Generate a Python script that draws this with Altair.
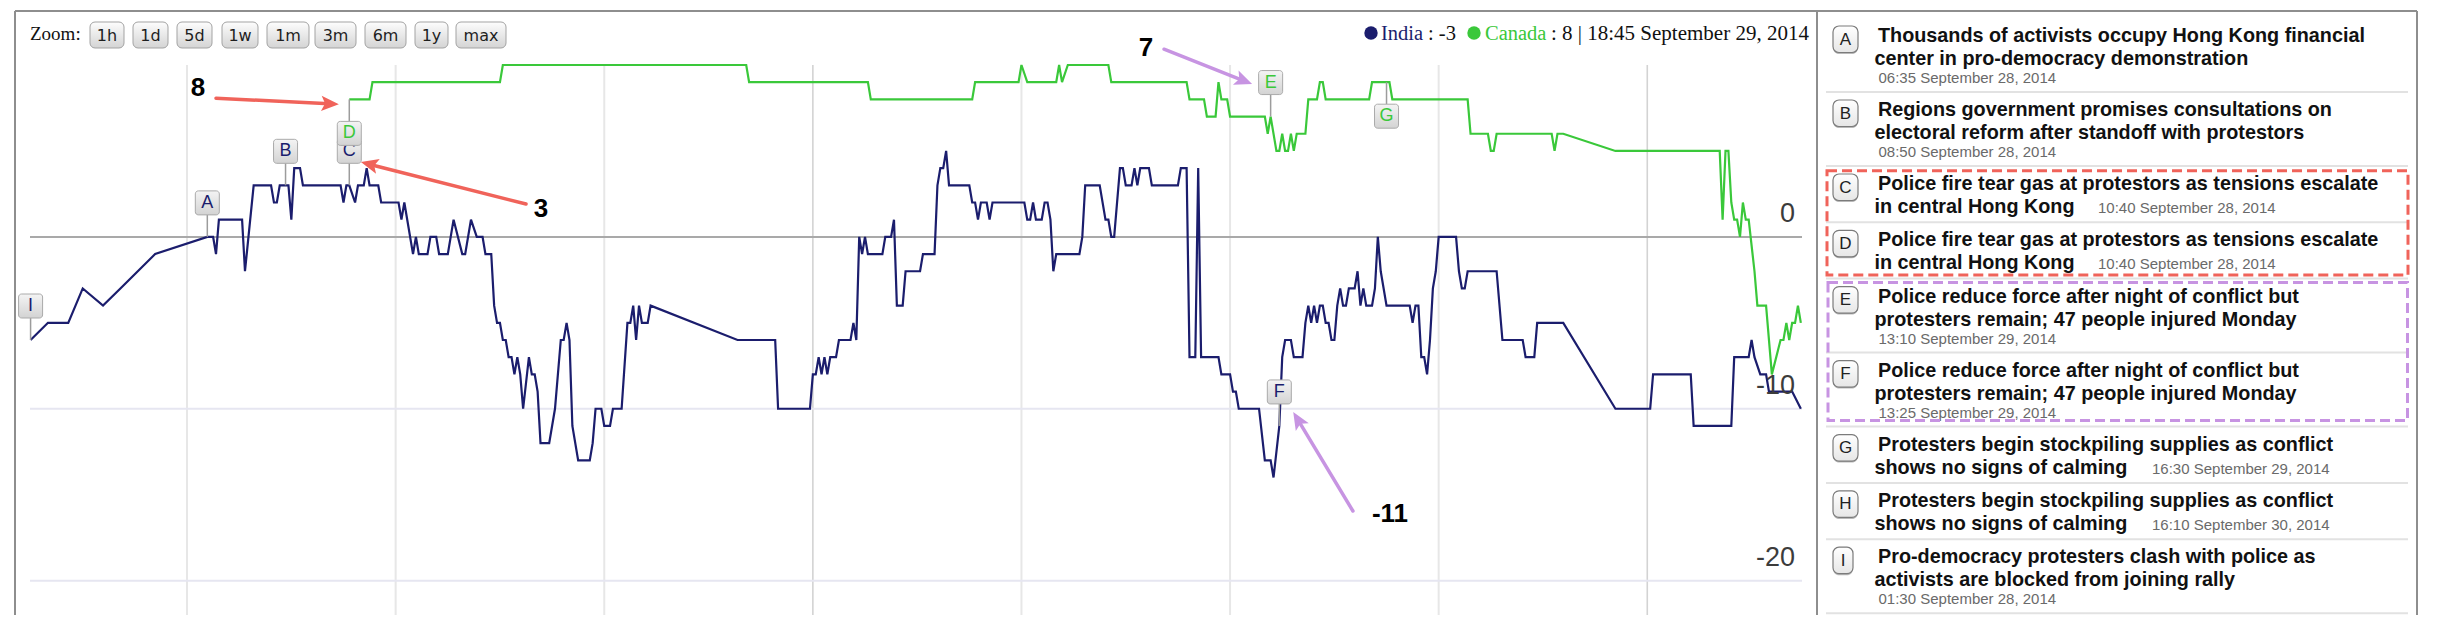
import math
import altair as alt
import numpy as np
import pandas as pd

# ---------------------------------------------------------------- data
START = pd.Timestamp("2014-09-28 00:00")   # minutes below are counted from here

india_minutes = [
    90, 120, 155, 180, 215, 245, 275, 305, 395, 405,
    410, 415, 455, 460, 475, 505, 510, 515, 520, 535,
    540, 545, 555, 560, 625, 630, 635, 640, 650, 655,
    665, 670, 675, 690, 695, 725, 730, 735, 750, 755,
    760, 775, 780, 790, 795, 810, 820, 835, 840, 850,
    860, 870, 875, 885, 890, 895, 900, 905, 910, 915,
    920, 925, 930, 935, 940, 950, 955, 960, 965, 970,
    985, 995, 1005, 1010, 1015, 1020, 1025, 1035, 1055, 1060,
    1065, 1075, 1080, 1090, 1095, 1110, 1120, 1125, 1130, 1135,
    1140, 1145, 1155, 1160, 1310, 1375, 1380, 1435, 1440, 1445,
    1450, 1455, 1460, 1465, 1470, 1480, 1485, 1505, 1510, 1515,
    1520, 1525, 1530, 1535, 1560, 1565, 1575, 1580, 1585, 1595,
    1600, 1625, 1630, 1650, 1655, 1660, 1665, 1670, 1675, 1710,
    1715, 1720, 1725, 1730, 1740, 1745, 1750, 1805, 1810, 1815,
    1820, 1825, 1835, 1840, 1845, 1850, 1855, 1860, 1900, 1905,
    1910, 1935, 1945, 1950, 1955, 1960, 1970, 1975, 1980, 1990,
    1995, 2000, 2005, 2020, 2025, 2070, 2075, 2085, 2090, 2100,
    2105, 2110, 2140, 2145, 2160, 2165, 2170, 2175, 2210, 2220,
    2230, 2235, 2245, 2250, 2255, 2265, 2270, 2285, 2290, 2295,
    2300, 2305, 2310, 2315, 2320, 2325, 2330, 2335, 2340, 2345,
    2350, 2355, 2360, 2365, 2375, 2380, 2385, 2390, 2395, 2405,
    2410, 2415, 2420, 2430, 2470, 2475, 2480, 2485, 2490, 2495,
    2500, 2505, 2510, 2515, 2520, 2550, 2555, 2560, 2565, 2570,
    2620, 2630, 2665, 2670, 2685, 2690, 2735, 2825, 2885, 2890,
    2955, 2960, 3025, 3030, 3055, 3060, 3065, 3075, 3085, 3090,
    3130, 3145,
]
india_values = [
    -6, -5, -5, -3, -4, -3, -2, -1, 0, 0,
    -1, 1, 1, -2, 3, 3, 2, 2, 3, 3,
    1, 4, 4, 3, 3, 2, 3, 3, 2, 3,
    3, 4, 3, 3, 2, 2, 1, 2, -1, 0,
    -1, -1, 0, 0, -1, -1, 1, -1, -1, 1,
    0, 0, -1, -1, -4, -5, -5, -6, -6, -7,
    -7, -8, -7, -8, -10, -7, -8, -8, -9, -12,
    -12, -10, -6, -6, -5, -6, -11, -13, -13, -12,
    -10, -10, -11, -11, -10, -10, -5, -5, -4, -6,
    -4, -5, -5, -4, -6, -6, -10, -10, -8, -8,
    -7, -8, -7, -8, -7, -7, -6, -6, -5, -6,
    0, -1, 0, -1, -1, 0, 0, 1, -4, -4,
    -2, -2, -1, -1, 3, 4, 4, 5, 3, 3,
    2, 2, 1, 2, 2, 1, 2, 2, 1, 1,
    2, 1, 1, 2, 2, 1, -2, -1, -1, 0,
    3, 3, 1, 1, 0, 0, 4, 4, 3, 3,
    4, 3, 4, 4, 3, 3, 4, 4, -7, -7,
    4, -7, -7, -8, -8, -9, -9, -10, -10, -13,
    -13, -14, -11, -7, -6, -6, -7, -7, -5, -4,
    -5, -4, -5, -4, -4, -5, -5, -6, -6, -4,
    -3, -4, -4, -3, -3, -2, -4, -3, -4, -4,
    -3, 0, -2, -4, -4, -5, -4, -4, -7, -7,
    -8, -6, -3, -2, 0, 0, -2, -3, -3, -2,
    -2, -6, -6, -7, -7, -5, -5, -10, -10, -8,
    -8, -11, -11, -7, -7, -6, -7, -8, -8, -9,
    -9, -10,
]
canada_minutes = [
    640, 675, 680, 900, 905, 1325, 1330, 1535, 1540, 1715,
    1720, 1795, 1800, 1810, 1860, 1865, 1870, 1880, 1950, 1955,
    2085, 2090, 2115, 2120, 2135, 2140, 2145, 2155, 2160, 2220,
    2225, 2230, 2240, 2245, 2250, 2255, 2260, 2265, 2270, 2275,
    2290, 2295, 2310, 2315, 2320, 2325, 2400, 2405, 2435, 2440,
    2570, 2575, 2605, 2610, 2615, 2620, 2715, 2720, 2725, 2735,
    2825, 3005, 3010, 3015, 3020, 3025, 3030, 3035, 3040, 3045,
    3050, 3055, 3065, 3070, 3085, 3095, 3110, 3115, 3120, 3125,
    3130, 3135, 3140, 3145,
]
canada_values = [
    8, 8, 9, 9, 10, 10, 9, 9, 8, 8,
    9, 9, 10, 9, 9, 10, 9, 10, 10, 9,
    9, 8, 8, 7, 7, 9, 8, 8, 7, 7,
    6, 7, 5, 5, 6, 5, 5, 6, 5, 6,
    6, 8, 8, 9, 9, 8, 8, 9, 9, 8,
    8, 6, 6, 5, 5, 6, 6, 5, 6, 6,
    5, 5, 1, 5, 5, 2, 1, 1, 0, 2,
    1, 1, -2, -4, -4, -8, -6, -6, -5, -6,
    -5, -5, -4, -5,
]
series_names = ["India", "Canada"]

flag_letters = ["I", "A", "B", "C", "D", "E", "F", "G"]
flag_series = ["India", "India", "India", "India", "Canada", "Canada", "India", "Canada"]
flag_times = ["2014-09-28 01:30", "2014-09-28 06:35", "2014-09-28 08:50", "2014-09-28 10:40",
              "2014-09-28 10:40", "2014-09-29 13:10", "2014-09-29 13:25", "2014-09-29 16:30"]
flag_values = [-6, 0, 3, 3, 8, 7, -11, 9]

news_letters = ["A", "B", "C", "D", "E", "F", "G", "H", "I"]
news_line1 = [
    "Thousands of activists occupy Hong Kong financial",
    "Regions government promises consultations on",
    "Police fire tear gas at protestors as tensions escalate",
    "Police fire tear gas at protestors as tensions escalate",
    "Police reduce force after night of conflict but",
    "Police reduce force after night of conflict but",
    "Protesters begin stockpiling supplies as conflict",
    "Protesters begin stockpiling supplies as conflict",
    "Pro-democracy protesters clash with police as",
]
news_line2 = [
    "center in pro-democracy demonstration",
    "electoral reform after standoff with protestors",
    "in central Hong Kong",
    "in central Hong Kong",
    "protesters remain; 47 people injured Monday",
    "protesters remain; 47 people injured Monday",
    "shows no signs of calming",
    "shows no signs of calming",
    "activists are blocked from joining rally",
]
news_times = [
    "06:35 September 28, 2014", "08:50 September 28, 2014", "10:40 September 28, 2014",
    "10:40 September 28, 2014", "13:10 September 29, 2014", "13:25 September 29, 2014",
    "16:30 September 29, 2014", "16:10 September 30, 2014", "01:30 September 28, 2014",
]

zoom_labels = ["1h", "1d", "5d", "1w", "1m", "3m", "6m", "1y", "max"]
hover_time_label = "18:45 September 29, 2014"
hover_minute = 2565

y_tick_values = [0, -10, -20]
grid_hour_times = ["2014-09-28 06:00", "2014-09-28 12:00", "2014-09-28 18:00",
                   "2014-09-29 06:00", "2014-09-29 12:00", "2014-09-29 18:00"]
grid_day_times = ["2014-09-29 00:00", "2014-09-30 00:00"]

note_text = ["8", "3", "7", "-11"]
note_times = ["2014-09-28 06:19", "2014-09-28 16:11", "2014-09-29 09:35", "2014-09-29 16:36"]
note_values = [8.66, 1.62, 10.98, -16.13]
arrow_group = ["red", "red", "purple", "purple"]
arrow_tail_times = ["2014-09-28 06:50", "2014-09-28 15:45", "2014-09-29 10:06", "2014-09-29 15:32"]
arrow_tail_values = [8.07, 1.91, 10.92, -15.95]
arrow_tip_times = ["2014-09-28 10:22", "2014-09-28 11:00", "2014-09-29 12:38", "2014-09-29 13:49"]
arrow_tip_values = [7.72, 4.35, 8.89, -10.19]

# ---------------------------------------------------------------- layout / style
NAVY = "#1b1d6d"
GREEN = "#3ac83a"
RED = "#f0635a"
PURPLE = "#c794e2"
SANS = "Liberation Sans"
SERIF = "Liberation Serif"

W, H = 1772, 550          # plot area
X0, Y0 = 30, 65           # page position of the plot origin
T_MIN, T_MAX = 89, 3147   # minutes after START shown on the x axis
V_MIN, V_MAX = -22, 10
BOTTOM = Y0 + H

flag_side = {"D": "down", "G": "down"}
inline_time_x = {"C": 2098, "D": 2098, "G": 2152, "H": 2152}
button_x = [(90, 124), (133, 168), (177, 212), (222, 258), (267, 309),
            (315, 356), (365, 406), (415, 448), (456, 506)]


def px(x):
    return x - X0


def py(y):
    return y - Y0


def at(m):
    return START + pd.Timedelta(minutes=float(m))


def dt(t):
    return alt.DateTime(year=t.year, month=t.month, date=t.day,
                        hours=t.hour, minutes=t.minute)


def minutes_of(s):
    return (pd.Timestamp(s) - START) / pd.Timedelta(minutes=1)


def vgrad(c0, c1):
    return alt.Gradient(gradient="linear",
                        stops=[alt.GradientStop(color=c0, offset=0),
                               alt.GradientStop(color=c1, offset=1)],
                        x1=0, x2=0, y1=0, y2=1)


xs = alt.Scale(domain=[dt(at(T_MIN)), dt(at(T_MAX))], nice=False)
ys = alt.Scale(domain=[V_MIN, V_MAX], nice=False, zero=False)
cs = alt.Scale(domain=series_names, range=[NAVY, GREEN])
XT = alt.X("time:T", scale=xs, axis=None)
YV = alt.Y("value:Q", scale=ys, axis=None)
PX = alt.X("x:Q", scale=None, axis=None)
PY = alt.Y("y:Q", scale=None, axis=None)

one = pd.DataFrame({"a": [0]})

# ---------------------------------------------------------------- frames
lines_df = pd.concat([
    pd.DataFrame({"time": [at(m) for m in india_minutes], "value": india_values, "series": "India"}),
    pd.DataFrame({"time": [at(m) for m in canada_minutes], "value": canada_values, "series": "Canada"}),
], ignore_index=True)

flag_df = pd.DataFrame({"time": pd.to_datetime(flag_times), "value": flag_values,
                        "letter": flag_letters, "series": flag_series})
flag_df["side"] = [flag_side.get(l, "up") for l in flag_letters]
flags_up = flag_df[flag_df.side == "up"]
flags_down = flag_df[flag_df.side == "down"]

# ---------------------------------------------------------------- chart layers
layers = []

layers.append(alt.Chart(pd.DataFrame({"time": pd.to_datetime(grid_hour_times)}))
              .mark_rule(color="#e7e7e7", strokeWidth=2).encode(x=XT))
layers.append(alt.Chart(pd.DataFrame({"time": pd.to_datetime(grid_day_times)}))
              .mark_rule(color="#d3d3d3", strokeWidth=1.6).encode(x=XT))
layers.append(alt.Chart(pd.DataFrame({"value": [v for v in y_tick_values if v != 0]}))
              .mark_rule(color="#e6e6f1", strokeWidth=2).encode(y=YV))
layers.append(alt.Chart(pd.DataFrame({"value": [0]}))
              .mark_rule(color="#a9a9a9", strokeWidth=2).encode(y=YV))

layers.append(alt.Chart(lines_df).mark_line(strokeWidth=2.2, strokeJoin="miter").encode(
    x=XT, y=YV, color=alt.Color("series:N", scale=cs, legend=None)))

# flags
for sub, sgn in ((flags_up, -1), (flags_down, 1)):
    if len(sub) == 0:
        continue
    layers.append(alt.Chart(sub).mark_rule(color="#9c9c9c", strokeWidth=1.5, y2Offset=22 * sgn)
                  .encode(x=XT, y=YV, y2=alt.Y2("value")))
for _, r in flag_df.iterrows():
    sgn = 1 if r["side"] == "down" else -1
    sub = flag_df[flag_df.letter == r["letter"]]
    y_a, y_b = (22, 46) if sgn > 0 else (-46, -22)
    layers.append(alt.Chart(sub).mark_rect(
        cornerRadius=3, fill=vgrad("#f4f4f4", "#d3d3d3"), stroke="#aaaaaa", strokeWidth=1,
        xOffset=-12, x2Offset=12, yOffset=y_a, y2Offset=y_b)
        .encode(x=XT, x2=alt.X2("time"), y=YV, y2=alt.Y2("value")))
    layers.append(alt.Chart(sub).mark_text(dy=34 * sgn, fontSize=18, font=SANS, baseline="middle")
                  .encode(x=XT, y=YV, text="letter:N",
                          color=alt.Color("series:N", scale=cs, legend=None)))

# y tick labels
layers.append(alt.Chart(pd.DataFrame({"value": y_tick_values,
                                      "label": [str(v) for v in y_tick_values]}))
              .mark_text(align="right", baseline="middle", dy=-23, fontSize=27, font=SANS, color="#3c3c3c")
              .encode(x=alt.value(px(1795)), y=YV, text="label:N"))

# annotations: arrows + numbers
ppm = W / (T_MAX - T_MIN)
ppu = H / (V_MAX - V_MIN)
R_HEAD = 9.5
arr_rows = []
for g, tt, tv, pt, pv in zip(arrow_group, arrow_tail_times, arrow_tail_values,
                             arrow_tip_times, arrow_tip_values):
    tm, pm = minutes_of(tt), minutes_of(pt)
    dx = (pm - tm) * ppm
    dy = -(pv - tv) * ppu
    L = math.hypot(dx, dy)
    ux, uy = dx / L, dy / L
    ang = (math.degrees(math.atan2(uy, ux)) + 90) % 360
    cm = pm - R_HEAD * ux / ppm
    cv = pv + R_HEAD * uy / ppu
    arr_rows.append({"group": g, "time": at(tm), "time2": at(cm), "value": tv, "value2": cv,
                     "htime": at(cm), "hvalue": cv, "angle": ang})
arr_df = pd.DataFrame(arr_rows)
ARROW_PATH = "M0,-1 L0.8,0.85 L0,0.45 L-0.8,0.85 Z"
for g, col in (("red", RED), ("purple", PURPLE)):
    sub = arr_df[arr_df.group == g]
    layers.append(alt.Chart(sub).mark_rule(color=col, strokeWidth=3.5, strokeCap="round")
                  .encode(x=XT, x2=alt.X2("time2"), y=YV, y2=alt.Y2("value2")))
    layers.append(alt.Chart(sub).mark_point(shape=ARROW_PATH, filled=True, size=(2 * R_HEAD) ** 2,
                                            color=col, opacity=1)
                  .encode(x=alt.X("htime:T", scale=xs, axis=None),
                          y=alt.Y("hvalue:Q", scale=ys, axis=None),
                          angle=alt.Angle("angle:Q", scale=None)))
layers.append(alt.Chart(pd.DataFrame({"time": pd.to_datetime(note_times), "value": note_values,
                                      "label": note_text}))
              .mark_text(fontSize=26, fontWeight="bold", font=SANS, color="#000000", baseline="middle")
              .encode(x=XT, y=YV, text="label:N"))

# ---------------------------------------------------------------- chrome: frame, zoom buttons, legend
frame_df = pd.DataFrame({"x": [px(15), px(15), px(1817), px(2417)],
                         "x2": [px(2417), px(15), px(1817), px(2417)],
                         "y": [py(11)] * 4,
                         "y2": [py(11), py(BOTTOM), py(BOTTOM), py(BOTTOM)]})
layers.append(alt.Chart(frame_df).mark_rule(color="#8e8e8e", strokeWidth=2)
              .encode(x=PX, x2="x2:Q", y=PY, y2="y2:Q"))

layers.append(alt.Chart(one).mark_text(text="Zoom:", align="left", baseline="middle", fontSize=19,
                                       font=SERIF, color="#111111")
              .encode(x=alt.value(px(30)), y=alt.value(py(34))))
btn_df = pd.DataFrame({"label": zoom_labels,
                       "x": [px(a) for a, b in button_x], "x2": [px(b) for a, b in button_x],
                       "xc": [px((a + b) / 2) for a, b in button_x]})
layers.append(alt.Chart(btn_df).mark_rect(cornerRadius=5, fill=vgrad("#fdfdfd", "#d4d4d4"),
                                          stroke="#a3a3a3", strokeWidth=1)
              .encode(x=PX, x2="x2:Q", y=alt.value(py(22)), y2=alt.value(py(48))))
layers.append(alt.Chart(btn_df).mark_text(fontSize=16, font="DejaVu Sans", color="#1e1e1e",
                                          baseline="middle")
              .encode(x=alt.X("xc:Q", scale=None, axis=None), y=alt.value(py(35.5)), text="label:N"))

india_now = int(np.interp(hover_minute, india_minutes, india_values))
canada_now = int(np.interp(hover_minute, canada_minutes, canada_values))
for cx, col in ((1371, NAVY), (1474, GREEN)):
    layers.append(alt.Chart(one).mark_point(shape="circle", filled=True, size=180, color=col, opacity=1)
                  .encode(x=alt.value(px(cx)), y=alt.value(py(33))))
legend_bits = [
    ("India", 1381, NAVY, 20.5),
    (f": {india_now}", 1428, "#111111", 20.5),
    ("Canada", 1485, GREEN, 20.5),
    (f": {canada_now} | {hover_time_label}", 1551, "#111111", 21),
]
for txt, x, col, fs in legend_bits:
    layers.append(alt.Chart(one).mark_text(text=txt, align="left", baseline="middle", fontSize=fs,
                                           font=SERIF, color=col)
                  .encode(x=alt.value(px(x)), y=alt.value(py(34))))

# ---------------------------------------------------------------- news panel
title_rows, time_rows, box_rows, sep_rows = [], [], [], []
entry_span = {}
T = 18.0
for i, L in enumerate(news_letters):
    y1, y2 = T + 24, T + 47
    title_rows.append({"x": px(1878), "y": py(y1), "text": news_line1[i]})
    title_rows.append({"x": px(1874.5), "y": py(y2), "text": news_line2[i]})
    if L in inline_time_x:
        time_rows.append({"x": px(inline_time_x[L]), "y": py(y2), "text": news_times[i]})
        bottom = T + 56.3
    else:
        time_rows.append({"x": px(1878.5), "y": py(T + 65), "text": news_times[i]})
        bottom = T + 74
    bw = 20 if L == "I" else 25
    box_rows.append({"x": px(1833), "x2": px(1833 + bw), "y": py(y1 - 16), "y2": py(y1 + 10.5),
                     "xc": px(1833 + bw / 2), "yc": py(y1 - 2.5), "text": L})
    sep_rows.append({"y": py(bottom)})
    entry_span[L] = (T, bottom)
    T = bottom

layers.append(alt.Chart(pd.DataFrame(sep_rows)).mark_rule(color="#e2e2e2", strokeWidth=2)
              .encode(x=alt.value(px(1826)), x2=alt.value(px(2408)), y=PY))
box_df = pd.DataFrame(box_rows)
layers.append(alt.Chart(box_df).mark_rect(cornerRadius=6, color="#b9b9b9", yOffset=1.5, y2Offset=1.5)
              .encode(x=PX, x2="x2:Q", y=PY, y2="y2:Q"))
layers.append(alt.Chart(box_df).mark_rect(cornerRadius=6, fill=vgrad("#ffffff", "#e6e6e6"),
                                          stroke="#7b7b7b", strokeWidth=1.2)
              .encode(x=PX, x2="x2:Q", y=PY, y2="y2:Q"))
layers.append(alt.Chart(box_df).mark_text(fontSize=17, font=SANS, color="#222222", baseline="middle")
              .encode(x=alt.X("xc:Q", scale=None, axis=None), y=alt.Y("yc:Q", scale=None, axis=None),
                      text="text:N"))
layers.append(alt.Chart(pd.DataFrame(title_rows)).mark_text(align="left", baseline="alphabetic",
                                                            fontSize=19.8, fontWeight="bold", font=SANS,
                                                            color="#111111")
              .encode(x=PX, y=PY, text="text:N"))
layers.append(alt.Chart(pd.DataFrame(time_rows)).mark_text(align="left", baseline="alphabetic",
                                                           fontSize=15, font=SANS, color="#6a6a6a")
              .encode(x=PX, y=PY, text="text:N"))

hl = [("C", "D", RED, 4.7, -3.6, 1827, 2408), ("E", "F", PURPLE, 4.0, -6.0, 1828, 2407.5)]
for a, b, col, da, db, xa, xb in hl:
    d = pd.DataFrame({"x": [px(xa)], "x2": [px(xb)],
                      "y": [py(entry_span[a][0] + da)], "y2": [py(entry_span[b][1] + db)]})
    layers.append(alt.Chart(d).mark_rect(filled=False, color=col, strokeWidth=3, strokeDash=[10, 5])
                  .encode(x=PX, x2="x2:Q", y=PY, y2="y2:Q"))

chart = alt.layer(*layers).properties(
    width=W, height=H,
    padding={"left": X0 - 8, "top": Y0 - 8, "right": 620, "bottom": 0},
    autosize=alt.AutoSizeParams(type="none"),
    background="white",
).configure_view(stroke=None)

chart.save("out.html", embed_options={"renderer": "svg", "actions": False})
